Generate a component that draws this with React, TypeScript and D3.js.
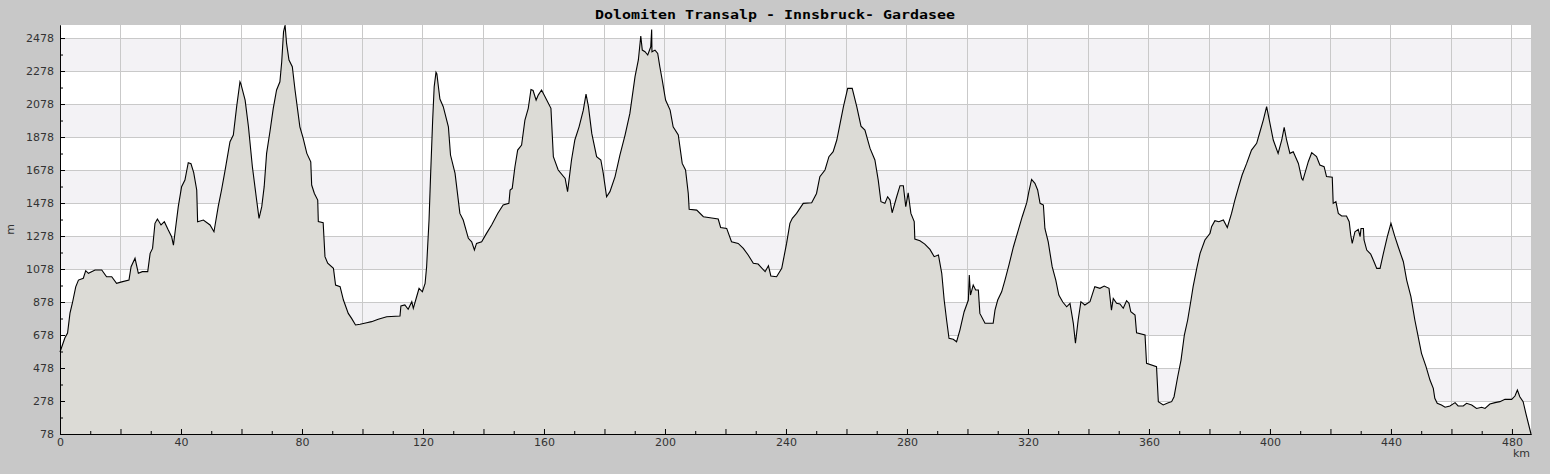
import * as d3 from "d3";
import React, { useEffect, useRef } from "react";

const title = "Dolomiten Transalp - Innsbruck- Gardasee";

// distance along the route (km)
const distanceKm = [
  0, 1.6, 2.5, 3.3, 4.1, 5.2, 6.1, 7.7, 8.5, 9.4, 11.6, 13.8, 15.4, 17.1, 18.7, 20.4, 22.8, 23.5, 24.8, 25.9,
  27.2, 29.0, 29.8, 30.6, 31.4, 32.2, 33.4, 34.5, 35.8, 36.9, 37.5, 38.0, 39.1, 40.2, 41.3, 42.4, 43.3, 44.2, 45.2, 45.5,
  47.4, 49.6, 50.9, 52.3, 53.4, 54.5, 56.2, 57.3, 58.4, 59.5, 59.8, 61.2, 62.3, 63.6, 65.0, 65.8, 66.7, 67.5, 68.3, 69.4,
  70.5, 71.6, 72.7, 73.3, 73.9, 74.4, 74.9, 75.7, 76.8, 77.7, 79.3, 80.4, 81.6, 82.9, 83.2, 84.1, 85.2, 85.4, 87.0, 87.6,
  88.5, 90.4, 91.1, 92.6, 93.7, 95.3, 96.4, 97.7, 99.2, 101.4, 103.0, 105.2, 108.0, 112.4, 112.7, 114.0, 115.1, 116.3, 116.8, 117.9,
  118.7, 119.8, 120.7, 121.2, 122.0, 122.5, 123.2, 123.7, 124.3, 124.6, 125.1, 125.6, 126.7, 128.4, 129.1, 130.6, 132.2, 133.3, 135.0, 136.1,
  137.0, 137.7, 139.4, 141.0, 142.7, 144.7, 146.5, 148.4, 148.8, 149.5, 150.4, 151.3, 152.6, 153.7, 154.8, 155.7, 156.4, 157.4, 158.1, 159.2,
  160.9, 162.3, 163.1, 164.7, 167.0, 167.8, 169.1, 170.2, 171.6, 173.0, 173.9, 174.7, 175.8, 177.4, 178.8, 179.6, 180.7, 181.8, 183.5, 185.1,
  186.8, 188.4, 190.1, 191.2, 192.0, 192.5, 193.4, 194.3, 195.3, 195.6, 195.7, 196.7, 197.6, 198.3, 199.1, 200.2, 201.7, 202.7, 204.4, 205.7,
  206.8, 207.7, 208.0, 210.5, 212.7, 214.9, 217.6, 218.4, 220.4, 222.0, 224.2, 225.9, 227.5, 229.2, 230.8, 233.1, 234.2, 235.0, 236.9, 238.6,
  240.2, 241.3, 242.1, 243.5, 245.7, 248.5, 250.1, 251.2, 252.9, 254.2, 255.6, 256.8, 257.9, 259.0, 260.4, 261.9, 263.4, 264.8, 266.1, 267.8,
  269.4, 270.5, 271.4, 272.7, 273.6, 274.4, 275.1, 276.6, 277.7, 278.8, 279.6, 280.4, 281.3, 282.4, 282.6, 284.3, 285.9, 287.6, 289.0, 290.4,
  291.5, 292.3, 293.1, 293.9, 295.3, 296.4, 297.5, 298.9, 300.3, 300.6, 301.0, 301.9, 302.7, 303.6, 304.1, 305.8, 308.5, 309.1, 310.0, 311.3,
  312.4, 313.7, 315.2, 316.8, 318.1, 319.6, 320.3, 321.2, 322.3, 323.2, 324.0, 325.1, 325.6, 326.7, 328.0, 329.2, 330.2, 331.5, 332.8, 333.9,
  335.0, 335.7, 336.6, 337.5, 338.8, 340.5, 342.1, 343.8, 345.2, 346.8, 347.6, 348.2, 349.3, 350.4, 351.5, 352.6, 353.4, 354.0, 355.4, 355.9,
  358.7, 359.2, 362.5, 363.1, 364.7, 366.4, 367.5, 368.3, 369.5, 370.6, 371.7, 372.8, 373.9, 374.6, 375.8, 376.9, 378.5, 380.2, 380.7, 381.8,
  383.1, 384.6, 385.9, 387.3, 388.4, 389.5, 390.8, 392.3, 393.9, 395.6, 396.7, 397.8, 398.9, 400.0, 401.1, 402.7, 403.9, 404.7, 405.5, 406.6,
  407.7, 409.4, 410.5, 410.9, 412.7, 413.8, 415.4, 416.5, 417.9, 418.7, 420.6, 420.9, 421.8, 422.6, 423.7, 425.3, 426.2, 426.7, 427.2, 428.1,
  429.2, 429.8, 430.1, 430.9, 431.1, 432.0, 433.3, 434.4, 435.3, 436.4, 437.5, 438.8, 440.0, 441.3, 442.4, 444.1, 445.2, 446.6, 447.9, 449.0,
  450.1, 451.6, 452.9, 454.0, 454.5, 455.3, 456.7, 457.9, 459.5, 461.2, 462.2, 463.9, 465.0, 466.7, 468.3, 470.0, 471.1, 472.7, 474.4, 476.0,
  477.7, 479.9, 481.0, 481.8, 482.6, 483.7, 484.6, 486.3,
];

// elevation (m)
const elevationM = [
  575, 660, 690, 811, 872, 970, 1011, 1022, 1068, 1052, 1072, 1072, 1031, 1031, 991, 1000, 1011, 1092, 1143, 1052,
  1062, 1062, 1173, 1203, 1355, 1381, 1345, 1365, 1314, 1274, 1223, 1296, 1456, 1577, 1617, 1722, 1716, 1662, 1557, 1365,
  1375, 1345, 1304, 1456, 1557, 1668, 1850, 1890, 2062, 2213, 2200, 2102, 1940, 1698, 1496, 1385, 1456, 1577, 1779, 1910,
  2052, 2163, 2213, 2334, 2516, 2557, 2446, 2345, 2304, 2163, 1940, 1870, 1779, 1728, 1587, 1536, 1496, 1365, 1359, 1153,
  1113, 1082, 981, 971, 890, 809, 779, 739, 743, 752, 759, 773, 789, 793, 854, 860, 834, 880, 840, 910,
  961, 940, 991, 1092, 1375, 1638, 1981, 2183, 2270, 2260, 2183, 2108, 2062, 1940, 1769, 1658, 1415, 1375, 1264, 1243,
  1193, 1233, 1243, 1294, 1345, 1415, 1466, 1476, 1557, 1567, 1698, 1799, 1829, 1981, 2052, 2166, 2160, 2102, 2132, 2163,
  2102, 2052, 1759, 1678, 1627, 1547, 1739, 1860, 1940, 2041, 2138, 2062, 1900, 1759, 1739, 1658, 1516, 1547, 1638, 1769,
  1890, 2021, 2244, 2345, 2490, 2405, 2395, 2375, 2425, 2530, 2395, 2405, 2385, 2304, 2223, 2102, 2041, 1940, 1890, 1718,
  1678, 1536, 1440, 1435, 1395, 1389, 1381, 1330, 1324, 1243, 1233, 1203, 1163, 1113, 1108, 1062, 1098, 1036, 1031, 1082,
  1233, 1355, 1385, 1415, 1476, 1480, 1536, 1638, 1678, 1759, 1789, 1860, 1961, 2062, 2173, 2173, 2062, 1944, 1920, 1809,
  1739, 1617, 1486, 1476, 1516, 1496, 1419, 1516, 1583, 1583, 1456, 1540, 1415, 1365, 1260, 1249, 1229, 1197, 1153, 1163,
  1052, 890, 769, 658, 652, 637, 708, 819, 890, 1042, 920, 981, 951, 951, 809, 749, 749, 829, 890, 940,
  1011, 1102, 1213, 1314, 1395, 1480, 1547, 1621, 1597, 1557, 1476, 1466, 1324, 1243, 1092, 1011, 920, 878, 849, 870,
  749, 628, 769, 880, 860, 880, 971, 961, 975, 961, 829, 900, 870, 866, 840, 886, 870, 819, 799, 692,
  678, 506, 486, 274, 254, 268, 274, 304, 425, 526, 678, 769, 890, 971, 1082, 1173, 1254, 1294, 1334, 1371,
  1365, 1375, 1330, 1415, 1496, 1567, 1648, 1718, 1799, 1840, 1910, 1981, 2062, 1961, 1860, 1779, 1860, 1937, 1860, 1779,
  1789, 1718, 1627, 1617, 1730, 1783, 1759, 1708, 1698, 1638, 1634, 1476, 1486, 1415, 1399, 1399, 1365, 1284, 1233, 1304,
  1318, 1274, 1324, 1324, 1254, 1193, 1169, 1122, 1082, 1082, 1173, 1274, 1355, 1274, 1213, 1122, 1011, 910, 769, 668,
  567, 486, 405, 355, 294, 264, 254, 240, 248, 268, 248, 248, 264, 254, 233, 240, 233, 260, 268, 274,
  288, 288, 308, 345, 304, 274, 203, 78,
];

const yTickLabels = [78, 278, 478, 678, 878, 1078, 1278, 1478, 1678, 1878, 2078, 2278, 2478];
const xTickLabels = [0, 40, 80, 120, 160, 200, 240, 280, 320, 360, 400, 440, 480];

const WIDTH = 1550;
const HEIGHT = 474;
const margin = { top: 25, right: 19, bottom: 40, left: 60 };

export default function App() {
  const svgRef = useRef<SVGSVGElement | null>(null);

  useEffect(() => {
    if (!svgRef.current) return;
    const svg = d3.select(svgRef.current);
    svg.selectAll("*").remove();

    const points = distanceKm.map((km, i) => ({ km, m: elevationM[i] }));
    const innerW = WIDTH - margin.left - margin.right;
    const innerH = HEIGHT - margin.top - margin.bottom;

    const x = d3
      .scaleLinear()
      .domain([0, d3.max(distanceKm) as number])
      .range([margin.left, margin.left + innerW]);
    const y = d3
      .scaleLinear()
      .domain(d3.extent(elevationM) as [number, number])
      .range([margin.top + innerH, margin.top]);

    svg.append("rect").attr("width", WIDTH).attr("height", HEIGHT).attr("fill", "#c8c8c8");

    // plot background with alternating bands
    svg
      .append("rect")
      .attr("x", margin.left)
      .attr("y", margin.top)
      .attr("width", innerW)
      .attr("height", innerH)
      .attr("fill", "#ffffff");

    const bandPairs = d3.range(1, yTickLabels.length - 1, 2).map((i) => [yTickLabels[i], yTickLabels[i + 1]]);
    svg
      .append("g")
      .selectAll("rect")
      .data(bandPairs)
      .enter()
      .append("rect")
      .attr("x", margin.left)
      .attr("width", innerW)
      .attr("y", (d) => y(d[1]))
      .attr("height", (d) => y(d[0]) - y(d[1]))
      .attr("fill", "#f3f2f5");

    // grid
    const grid = svg.append("g").attr("stroke", "#c9c9c9").attr("stroke-width", 1).attr("shape-rendering", "crispEdges");
    yTickLabels.forEach((t) => {
      grid.append("line").attr("x1", margin.left).attr("x2", margin.left + innerW).attr("y1", y(t)).attr("y2", y(t));
    });
    d3.range(20, (d3.max(distanceKm) as number), 20).forEach((t) => {
      grid.append("line").attr("x1", x(t)).attr("x2", x(t)).attr("y1", margin.top).attr("y2", margin.top + innerH);
    });

    // elevation profile
    const area = d3
      .area<{ km: number; m: number }>()
      .x((d) => x(d.km))
      .y0(y(yTickLabels[0]))
      .y1((d) => y(d.m));
    const line = d3
      .line<{ km: number; m: number }>()
      .x((d) => x(d.km))
      .y((d) => y(d.m));

    svg.append("path").datum(points).attr("d", area).attr("fill", "#dcdbd6");
    svg
      .append("path")
      .datum(points)
      .attr("d", line)
      .attr("fill", "none")
      .attr("stroke", "#000")
      .attr("stroke-width", 1.1)
      .attr("stroke-linejoin", "miter");

    // axes
    const fontFamily = "DejaVu Sans, sans-serif";
    const styleAxis = (g: d3.Selection<SVGGElement, unknown, null, undefined>) => {
      g.selectAll(".domain").attr("stroke", "#000");
      g.selectAll(".tick line").attr("stroke", "#000");
      g.selectAll("text").attr("fill", "#333").style("font-family", fontFamily).style("font-size", "11px");
    };

    const yMinor = d3.range(yTickLabels[0] + 100, (d3.max(elevationM) as number), 200);
    svg
      .append("g")
      .attr("transform", `translate(${margin.left},0)`)
      .call(d3.axisLeft(y).tickValues(yMinor).tickSize(-3).tickSizeOuter(0).tickFormat(() => ""))
      .call(styleAxis);
    svg
      .append("g")
      .attr("transform", `translate(${margin.left},0)`)
      .call(d3.axisLeft(y).tickValues(yTickLabels).tickSize(-5).tickSizeOuter(0).tickPadding(6).tickFormat(d3.format("d")))
      .call(styleAxis)
      .selectAll("text")
      .attr("x", -6)
      .attr("dy", "0.3em");

    const xMinor = d3.range(10, (d3.max(distanceKm) as number), 20);
    const xMajor = d3.range(0, (d3.max(distanceKm) as number), 20);
    svg
      .append("g")
      .attr("transform", `translate(0,${margin.top + innerH})`)
      .call(d3.axisBottom(x).tickValues(xMinor).tickSize(-3).tickSizeOuter(0).tickFormat(() => ""))
      .call(styleAxis);
    svg
      .append("g")
      .attr("transform", `translate(0,${margin.top + innerH})`)
      .call(
        d3
          .axisBottom(x)
          .tickValues(xMajor)
          .tickSize(-5)
          .tickSizeOuter(0)
          .tickFormat((d) => (xTickLabels.includes(d as number) ? String(d) : "")),
      )
      .call(styleAxis)
      .selectAll("text")
      .attr("y", 4)
      .attr("dy", "0.71em");

    // labels
    svg
      .append("text")
      .attr("x", WIDTH / 2)
      .attr("y", 19)
      .attr("text-anchor", "middle")
      .attr("textLength", 360)
      .attr("lengthAdjust", "spacingAndGlyphs")
      .style("font-family", "DejaVu Sans Mono, monospace")
      .style("font-size", "13px")
      .style("font-weight", "bold")
      .attr("fill", "#000")
      .text(title);

    svg
      .append("text")
      .attr("transform", `translate(14,${margin.top + innerH / 2}) rotate(-90)`)
      .attr("text-anchor", "middle")
      .style("font-family", fontFamily)
      .style("font-size", "11px")
      .attr("fill", "#333")
      .text("m");

    svg
      .append("text")
      .attr("x", margin.left + innerW - 1)
      .attr("y", 457)
      .attr("text-anchor", "end")
      .style("font-family", fontFamily)
      .style("font-size", "11px")
      .attr("fill", "#333")
      .text("km");
  }, []);

  return (
    <div style={{ position: "absolute", left: 0, top: 0 }}>
      <svg ref={svgRef} width={WIDTH} height={HEIGHT} style={{ display: "block" }}></svg>
    </div>
  );
}
